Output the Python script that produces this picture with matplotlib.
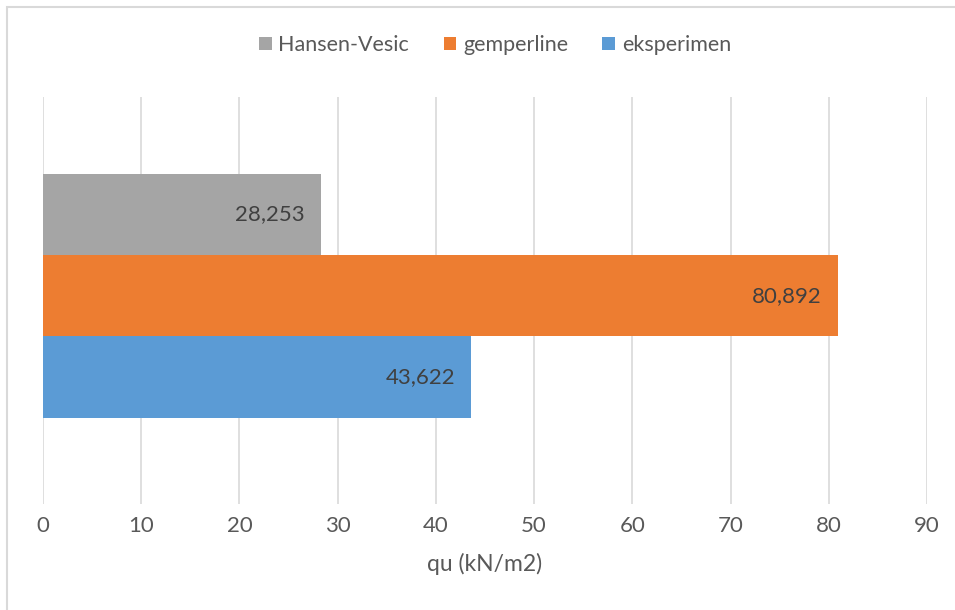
import matplotlib.pyplot as plt
from matplotlib.patches import Rectangle

plt.rcParams['font.family'] = ['Lato', 'DejaVu Sans']

series = ['Hansen-Vesic', 'gemperline', 'eksperimen']
values = [28.253, 80.892, 43.622]
colors = ['#A5A5A5', '#ED7D31', '#5B9BD5']
offsets = [0.2, 0.0, -0.2]
xticks = [0, 10, 20, 30, 40, 50, 60, 70, 80, 90]

text_color = '#595959'

fig = plt.figure(figsize=(9.55, 6.1), dpi=100)
ax = fig.add_axes([43 / 955, 1 - 504 / 610, (927 - 43) / 955, (504 - 97) / 610])

for name, val, col, off in zip(series, values, colors, offsets):
    ax.barh(off, val, height=0.2, color=col, label=name, zorder=3)
    ax.text(val - 1.6, off, f'{val:.3f}'.replace('.', ','), ha='right', va='center',
            fontsize=16, color='#404040', zorder=4)

ax.set_xlim(0, 90)
ax.set_ylim(-0.512, 0.488)
ax.set_xticks(xticks)
ax.set_yticks([])
ax.tick_params(axis='x', length=0, labelsize=16, labelcolor=text_color, pad=9)
ax.grid(axis='x', color='#D9D9D9', linewidth=1.2, zorder=0)
for s in ax.spines.values():
    s.set_visible(False)
ax.set_xlabel('qu (kN/m2)', fontsize=16.5, color=text_color, labelpad=12)

fig.legend(loc='center', bbox_to_anchor=(495 / 955, 1 - 45 / 610), ncol=3, frameon=False,
           fontsize=15.5, labelcolor=text_color, handlelength=0.6, handleheight=0.6,
           handletextpad=0.3, columnspacing=1.6)

# chart frame
fig.patches.append(Rectangle((7 / 955, -0.1), 1.2, 1.1 - 7 / 610, transform=fig.transFigure,
                             fill=False, edgecolor='#D9D9D9', linewidth=1.5))

fig.savefig('out.png', dpi=100)
